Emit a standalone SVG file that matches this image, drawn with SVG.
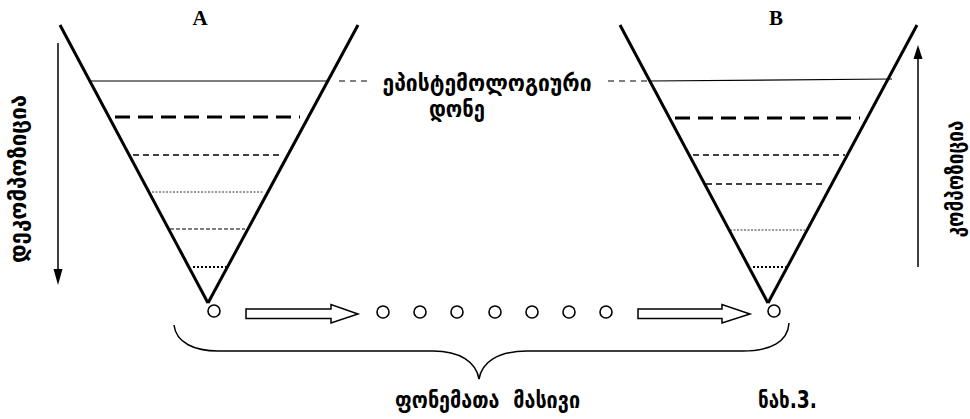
<svg xmlns="http://www.w3.org/2000/svg" width="970" height="419" viewBox="0 0 970 419">
<style>
.v{stroke:#000;stroke-width:3;fill:none;stroke-linecap:butt}
.solid{stroke:#000;stroke-width:1.2;fill:none}
.thick{stroke:#000;stroke-width:3.2;stroke-dasharray:15 8;fill:none}
.med{stroke:#000;stroke-width:1.3;stroke-dasharray:6 4;fill:none}
.thin{stroke:#000;stroke-width:1;stroke-dasharray:4 2;fill:none}
.fine{stroke:#000;stroke-width:0.8;stroke-dasharray:2 1.5;fill:none}
.dot{stroke:#000;stroke-width:2;stroke-dasharray:2 2;fill:none}
.ext{stroke:#000;stroke-width:1.2;stroke-dasharray:6 5;fill:none}
.node{fill:#fff;stroke:#000;stroke-width:1.6}
.blk{fill:#fff;stroke:#000;stroke-width:1.5;stroke-linejoin:miter}
.ln{stroke:#000;stroke-width:1.5;fill:none}
.geo{font-family:"DejaVu Sans",sans-serif;font-weight:bold;font-size:24px;fill:#000}
.lat{font-family:"Liberation Serif",serif;font-weight:bold;font-size:21px;fill:#000}
</style>
<g id="funnelA">
<line class="v" x1="60" y1="25" x2="208" y2="303"/>
<line class="v" x1="358" y1="25" x2="208" y2="303"/>
<line class="solid" x1="91" y1="81" x2="327" y2="81"/>
<line class="ext" x1="339" y1="81" x2="368" y2="81"/>
<line class="thick" x1="115" y1="117" x2="300" y2="117"/>
<line class="med" x1="133" y1="155" x2="282" y2="155"/>
<line class="fine" x1="152" y1="192" x2="263" y2="192"/>
<line class="thin" x1="170" y1="229" x2="245" y2="229"/>
<line class="dot" x1="193" y1="267" x2="226" y2="267"/>
<text class="lat" x="200" y="25" text-anchor="middle">A</text>
</g>
<g id="funnelB">
<line class="v" x1="620" y1="25" x2="768" y2="303"/>
<line class="v" x1="917" y1="25" x2="768" y2="303"/>
<line class="solid" x1="649" y1="81" x2="892" y2="79"/>
<line class="ext" x1="608" y1="81" x2="648" y2="81" stroke-dasharray="2 5 7 5"/>
<line class="thick" x1="675" y1="118" x2="860" y2="118"/>
<line class="med" x1="693" y1="155" x2="845" y2="155"/>
<line class="med" x1="706" y1="184" x2="822" y2="184"/>
<line class="fine" x1="730" y1="230" x2="805" y2="230"/>
<line class="dot" x1="753" y1="267" x2="786" y2="267"/>
<text class="lat" x="776" y="25" text-anchor="middle">B</text>
</g>
<g id="phonemes">
<circle class="node" cx="214" cy="311" r="6"/>
<circle class="node" cx="383" cy="312" r="6"/>
<circle class="node" cx="420" cy="312" r="6"/>
<circle class="node" cx="457" cy="312" r="6"/>
<circle class="node" cx="495" cy="312" r="6"/>
<circle class="node" cx="532" cy="312" r="6"/>
<circle class="node" cx="569" cy="312" r="6"/>
<circle class="node" cx="606" cy="312" r="6"/>
<circle class="node" cx="774" cy="311" r="6"/>
</g>
<g id="connectors">
<polygon class="blk" points="246,309 331,309 331,304.5 358,314 331,323 331,318.5 246,318.5"/>
<polygon class="blk" points="638,309 722,309 722,304.5 750,314 722,323 722,318.5 638,318.5"/>
<line class="ln" x1="58" y1="43" x2="58" y2="272"/>
<polygon points="53.5,269 62.5,269 58,285" fill="#000"/>
<line class="ln" x1="918" y1="267" x2="918" y2="56"/>
<polygon points="913.5,59 922.5,59 918,45" fill="#000"/>
<path class="ln" d="M174,325 C176,343 195,351 218,351 L433,351 C460,351 476,362 479,379 C482,362 498,351 527,351 L743,351 C770,351 788,342 789,323"/>
</g>
<g id="labels">
<text class="geo" x="487" y="91" text-anchor="middle" textLength="209" lengthAdjust="spacingAndGlyphs">ეპისტემოლოგიური</text>
<text class="geo" x="457" y="117" text-anchor="middle" textLength="56" lengthAdjust="spacingAndGlyphs">დონე</text>
<text class="geo" transform="translate(26,179) rotate(-90)" text-anchor="middle" textLength="168" lengthAdjust="spacingAndGlyphs">დეკომპოზიცია</text>
<text class="geo" transform="translate(963,179) rotate(-90)" text-anchor="middle" textLength="117" lengthAdjust="spacingAndGlyphs">კომპოზიცია</text>
<text class="geo" x="395" y="408" textLength="185" lengthAdjust="spacingAndGlyphs" xml:space="preserve">ფონემათა  მასივი</text>
<text class="geo" x="758" y="408" textLength="59" lengthAdjust="spacingAndGlyphs">ნახ.3.</text>
</g>
</svg>
